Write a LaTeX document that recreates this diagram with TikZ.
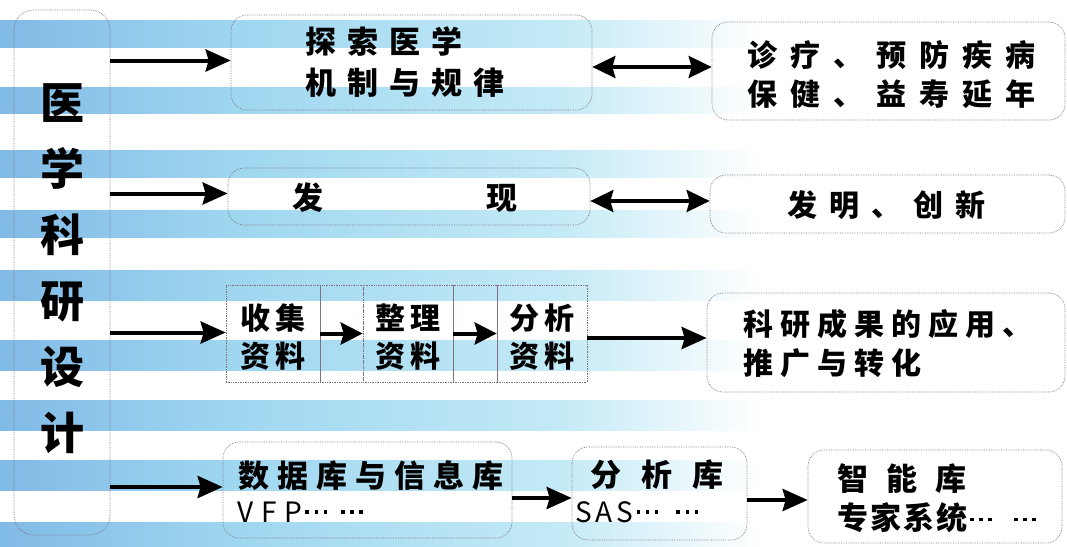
\documentclass[tikz,border=0pt]{standalone}
\usepackage{fontspec}
\setmainfont{Noto Sans CJK SC}
\usetikzlibrary{arrows.meta,calc}
\definecolor{bord}{RGB}{128,112,128}
\definecolor{sA}{RGB}{128,186,230}
\definecolor{sB}{RGB}{158,214,240}
\definecolor{sC}{RGB}{196,234,246}
\definecolor{sD}{RGB}{255,255,255}
\pgfdeclarehorizontalshading{stripefade}{100bp}{color(0bp)=(sA); color(25bp)=(sA); color(40bp)=(sB); color(62bp)=(sC); color(75bp)=(sD); color(100bp)=(sD)}
\makeatletter
\newcommand\gapped[2]{{\def\g@sep{}\@tfor\g@c:=#2\do{\g@sep\g@c\def\g@sep{\kern#1}}}}
\makeatother
\newcommand\onedot{\rule[8.5pt]{3.6pt}{3.6pt}}
\newcommand\mdots{\kern3pt\onedot\kern5.5pt\onedot\kern5.5pt\onedot\kern3pt}
\begin{document}
\begin{tikzpicture}[x=1pt,y=-1pt,
  box/.style={draw=bord, densely dotted, line width=0.7pt, rounded corners=16pt, inner sep=0pt},
  cell/.style={draw=bord, densely dotted, line width=0.7pt, inner sep=0pt, minimum height=97pt},
  arr/.style={line width=4pt, -{Stealth[length=25pt,width=22pt,inset=3pt]}},
  sarr/.style={line width=4pt, -{Stealth[length=22pt,width=22pt,inset=3pt]}},
  darr/.style={line width=3.5pt, {Stealth[length=23pt,width=22pt,inset=3pt]}-{Stealth[length=23pt,width=22pt,inset=3pt]}},
  txt/.style={inner sep=0pt, align=left, font=\bfseries\fontsize{31}{41}\selectfont},
  lat/.style={inner sep=0pt, align=left, font=\fontsize{28}{30}\selectfont},
  stripe/.style={shading=stripefade}]
\useasboundingbox (0,0) rectangle (1067,546);
\fill[white] (0,0) rectangle (1067,546);
% background stripes
\foreach \a/\b in {20/47, 87/113, 150/177, 210/237, 270/300, 340/370, 400/430, 460/490, 522/546}
  \shade[stripe] (0,\a) rectangle (760,\b);

% left box
\node[box, rounded corners=20pt, minimum width=96pt, minimum height=525pt] (L) at (62,272.5) {};
\node[inner sep=0pt, align=center, font=\bfseries\fontsize{44}{66}\selectfont] (Lt) at (62,269) {医\\学\\科\\研\\设\\计};

% row 1
\node[box, minimum width=361pt, minimum height=95pt] (b1) at (411.5,62.5) {};
\node[txt, anchor=west] (b1t) at (305,62.5) {\gapped{11pt}{探索医学}\\\gapped{11pt}{机制与规律}};
\node[box, minimum width=353pt, minimum height=98pt] (r1) at (888.5,71) {};
\node[txt, anchor=west, font=\bfseries\fontsize{30}{39}\selectfont] (r1t) at (747,74.5) {\gapped{13pt}{诊疗、预防疾病}\\\gapped{13pt}{保健、益寿延年}};

% row 2
\node[box, minimum width=362pt, minimum height=57pt] (b2) at (409,196.5) {};
\node[txt] (b2t) at (405,198) {发\kern163pt 现};
\node[box, minimum width=355pt, minimum height=58pt] (r2) at (887.5,204) {};
\node[txt, font=\bfseries\fontsize{30}{39}\selectfont] (r2t) at (886,205) {\gapped{12pt}{发明、创新}};

% row 3 (table)
\node[cell, minimum width=94pt] (c1) at (273,333.5) {};
\node[cell, minimum width=43pt] (a1) at (341.5,333.5) {};
\node[cell, minimum width=90pt] (c2) at (408,333.5) {};
\node[cell, minimum width=44pt] (a2) at (475,333.5) {};
\node[cell, minimum width=90pt] (c3) at (542,333.5) {};
\node[txt, align=center, font=\bfseries\fontsize{30}{38}\selectfont] (c1t) at (273,337) {\gapped{5pt}{收集}\\\gapped{5pt}{资料}};
\node[txt, align=center, font=\bfseries\fontsize{30}{38}\selectfont] (c2t) at (408,337) {\gapped{5pt}{整理}\\\gapped{5pt}{资料}};
\node[txt, align=center, font=\bfseries\fontsize{30}{38}\selectfont] (c3t) at (542,337) {\gapped{5pt}{分析}\\\gapped{5pt}{资料}};
\node[box, minimum width=358pt, minimum height=99pt] (r3) at (886,342.5) {};
\node[txt, anchor=west, font=\bfseries\fontsize{30}{39}\selectfont] (r3t) at (743,344) {\gapped{7pt}{科研成果的应用、}\\\gapped{7pt}{推广与转化}};

% row 4
\node[box, minimum width=289pt, minimum height=96pt] (b41) at (367.5,490) {};
\node[txt, anchor=west] (b41a) at (238,476) {\gapped{8pt}{数据库与信息库}};
\node[lat, anchor=west] (b41b) at (237,512) {V\kern8pt F\kern8pt P\mdots\kern8pt\mdots};
\node[box, minimum width=175pt, minimum height=93pt] (b42) at (659.5,493.5) {};
\node[txt, anchor=west] (b42a) at (590,475) {\gapped{20pt}{分析库}};
\node[lat, anchor=west] (b42b) at (575,512) {S\kern4pt A\kern4pt S\mdots\kern12pt\mdots};
\node[box, minimum width=254pt, minimum height=93pt] (b43) at (935,496.5) {};
\node[txt, anchor=west] (b43a) at (837,479) {\gapped{18pt}{智能库}};
\node[txt, anchor=west] (b43b) at (837,518) {\gapped{2pt}{专家系统}\mdots\kern16pt\mdots};

% arrows from the left box
\draw[arr] ($(L.east |- b1.west)+(0,-2)$) -- ($(b1.west)+(0,-2)$);
\draw[arr] ($(L.east |- b2.west)+(0,-3)$) -- ($(b2.west)+(0,-3)$);
\draw[arr] ($(L.east |- c1.west)+(0,-1)$) -- ($(c1.west)+(0,-1)$);
\draw[arr] ($(L.east |- b41.west)+(0,-3)$) -- ($(b41.west)+(0,-3)$);

% double arrows
\draw[darr] ($(b1.east)+(0,4.5)$) -- ($(r1.west)+(0,-4)$);
\draw[darr] ($(b2.east)+(0,4.5)$) -- ($(r2.west)+(0,-3)$);

% table arrows
\draw[sarr] (c1.east) -- (c2.west);
\draw[sarr] (c2.east) -- (c3.west);
\draw[arr] ($(c3.east)+(0,4.5)$) -- ($(r3.west)+(0,-4.5)$);

% row 4 arrows
\draw[arr] ($(b41.east)+(0,8)$) -- ($(b42.west)+(0,4.5)$);
\draw[arr] ($(b42.east)+(0,6.5)$) -- ($(b43.west)+(0,3.5)$);
\end{tikzpicture}
\end{document}
